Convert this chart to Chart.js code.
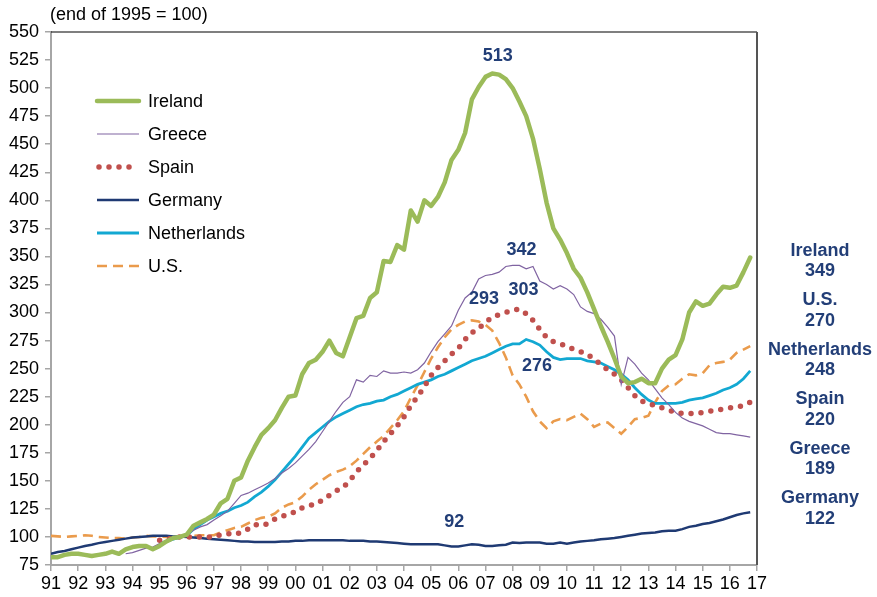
<!DOCTYPE html>
<html>
<head>
<meta charset="utf-8">
<script src="https://cdn.jsdelivr.net/npm/chart.js@4.4.1/dist/chart.umd.min.js"></script>
<style>
  html, body { margin: 0; padding: 0; background: #fff; }
  #chart { display: block; }
</style>
</head>
<body>
<canvas id="chart" width="877" height="597"></canvas>
<script>
// quarterly house price index, end of 1995 = 100
const firstYear = 1991;
const lastYear = 2017;
const tickLabels = ['91', '92', '93', '94', '95', '96', '97', '98', '99', '00', '01', '02', '03',
  '04', '05', '06', '07', '08', '09', '10', '11', '12', '13', '14', '15', '16', '17'];

const irelandStart = 1991;
const irelandValues = [
  82, 82, 84, 85, 85, 84, 83, 84, 85, 87, 85, 89, 91, 92, 92, 89,
  92, 96, 99, 100, 102, 110, 113, 116, 120, 130, 134, 150, 153, 168, 180, 191,
  197, 204, 215, 225, 226, 245, 255, 258, 265, 275, 264, 261, 278, 295, 297, 313,
  318, 346, 345, 360, 356, 391, 381, 400, 395, 403, 416, 436, 445, 460, 490, 501,
  510, 513, 512, 508, 500, 488, 475, 455, 428, 398, 375, 365, 353, 339, 331, 318,
  303, 288, 274, 259, 243, 237, 238, 241, 237, 237, 250, 258, 262, 276, 300, 310,
  306, 308, 316, 323, 322, 324, 336, 349
];

const greeceStart = 1993.75;
const greeceValues = [
  85, 86, 88, 90, 91, 94, 96, 98, 100, 102, 106, 109, 111, 115, 119, 123, 130,
  137, 139, 142, 145, 148, 152, 157, 161, 166, 172, 178, 185, 194, 203, 212, 220,
  225, 240, 238, 244, 243, 248, 246, 246, 247, 246, 249, 255, 265, 274, 281, 288,
  302, 313, 318, 330, 333, 334, 336, 341, 342, 342, 339, 341, 328, 325, 321, 324,
  321, 316, 305, 301, 299, 294, 287, 279, 236, 260, 254, 246, 240, 232, 224, 218,
  211, 206, 203, 201, 199, 196, 193, 192, 192, 191, 190, 189
];

const spainStart = 1995;
const spainValues = [
  97, 98, 99, 100, 100, 100, 100, 100, 100, 102, 103, 102, 104, 107, 111, 110,
  112, 116, 118, 121, 122, 126, 128, 129, 133, 137, 141, 144, 150, 158, 164, 170,
  177, 185, 192, 199, 207, 217, 225, 234, 244, 251, 257, 263, 268, 276, 282, 286,
  291, 296, 298, 300, 302, 303, 299, 293, 285, 278, 274, 272, 270, 267, 265, 263,
  258, 254, 249, 245, 240, 233, 226, 221, 219, 217, 215, 213, 211, 210, 210, 210,
  211, 212, 213, 214, 215, 216, 217, 220
];

const germanyStart = 1991;
const germanyValues = [
  85, 86.5, 87.5, 89, 90.5, 92, 93, 94.5, 95.5, 96.5, 97.5, 98.5, 99.5, 100, 100.5, 101,
  101, 101, 100.5, 100.5, 100, 99.5, 99, 98.5, 98, 97.5, 97, 96.5, 96, 96, 95.5, 95.5,
  95.5, 95.5, 96, 96, 96.5, 96.5, 97, 97, 97, 97, 97, 97, 96.5, 96.5, 96.5, 96,
  96, 95.5, 95, 94.5, 94, 93.5, 93.5, 93.5, 93.5, 93.5, 92.5, 91.5, 91.5, 92.5, 93.5, 93,
  92, 92, 92.5, 93, 95, 94.5, 95, 95, 95, 94, 94, 95, 94, 95, 96, 96.5,
  97, 98, 98.5, 99, 100, 101, 102, 103, 103.5, 104, 105, 105.5, 105.5, 107, 109, 110,
  111.5, 112.5, 114, 115.5, 117.5, 119.5, 121, 122
];

const netherlandsStart = 1995;
const netherlandsValues = [
  94, 96, 98, 99.5, 101, 107, 111, 115, 118, 121, 123, 126, 128, 131, 136, 140,
  145, 151, 158, 165, 172, 180, 188, 193, 198, 203, 207, 210, 213, 216, 218, 219,
  221, 222, 225, 227, 230, 233, 236, 238, 240, 243, 245, 248, 251, 254, 257, 259,
  261, 264, 267, 270, 272, 272, 276, 274, 271, 265, 260, 258, 259, 259, 259, 257,
  256, 255, 252, 249, 245, 240, 233, 227, 222, 219, 219, 219, 219, 220, 222, 223,
  224, 226, 228, 231, 233, 236, 241, 248
];

const usStart = 1991;
const usValues = [
  101, 100.5, 100, 100.5, 101, 101.5, 101, 100, 99.5, 99, 99, 98.5, 99.5, 100, 101, 100.5,
  100.5, 100, 100, 100, 100.5, 101, 101.5, 101.5, 101.5, 104, 106, 108, 109, 112, 115, 117,
  118, 121, 126, 129, 131, 136, 142, 147, 151, 155, 158, 160, 163, 168, 174, 180,
  185, 190, 197, 204, 212, 224, 235, 247, 259, 269, 278, 285, 289, 292, 293, 292,
  289, 284, 273, 260, 244, 236, 225, 212, 203, 197, 203, 205, 204, 207, 210, 205,
  198, 201, 202, 197, 192, 198, 205, 206, 208, 220, 230, 235, 236, 241, 245, 244,
  246, 253, 255, 256, 258, 264, 267, 270
];

// value callouts on the lines
const calloutText = ['513', '342', '303', '293', '276', '92'];
const calloutYear = [2007.45, 2008.33, 2008.4, 2006.95, 2008.9, 2005.85];
const calloutValue = [529, 356, 320, 312, 252, 113];

// end values listed to the right of the plot
const endNames = ['Ireland', 'U.S.', 'Netherlands', 'Spain', 'Greece', 'Germany'];
const endValues = ['349', '270', '248', '220', '189', '122'];

const navy = '#223E77';
const fontFamily = '"Liberation Sans", Arial, Helvetica, sans-serif';

function toPoints(start, values) {
  return values.map((v, i) => ({ x: start + i * 0.25, y: v }));
}

const datasets = [
  { label: 'Ireland', data: toPoints(irelandStart, irelandValues),
    borderColor: '#9BBB59', borderWidth: 4.5, borderJoinStyle: 'round', borderCapStyle: 'round' },
  { label: 'Greece', data: toPoints(greeceStart, greeceValues),
    borderColor: '#8064A2', borderWidth: 1.2 },
  { label: 'Spain', data: toPoints(spainStart, spainValues),
    borderColor: '#C0504D', borderWidth: 5.5, borderDash: [0, 10], borderCapStyle: 'round' },
  { label: 'Germany', data: toPoints(germanyStart, germanyValues),
    borderColor: '#1F3A73', borderWidth: 2.5 },
  { label: 'Netherlands', data: toPoints(netherlandsStart, netherlandsValues),
    borderColor: '#12A8D2', borderWidth: 2.8 },
  { label: 'U.S.', data: toPoints(usStart, usValues),
    borderColor: '#EA9B4C', borderWidth: 2.6, borderDash: [10, 6] }
];

const overlayPlugin = {
  id: 'overlay',
  afterDraw(chart) {
    const { ctx, chartArea, scales } = chart;
    const x = scales.x;
    const y = scales.y;
    ctx.save();

    // frame on top and right
    ctx.strokeStyle = '#000';
    ctx.lineWidth = 1.2;
    ctx.beginPath();
    ctx.moveTo(chartArea.left, chartArea.top);
    ctx.lineTo(chartArea.right, chartArea.top);
    ctx.stroke();
    ctx.strokeStyle = '#555';
    ctx.lineWidth = 2;
    ctx.beginPath();
    ctx.moveTo(chartArea.right, chartArea.top);
    ctx.lineTo(chartArea.right, chartArea.bottom);
    ctx.stroke();

    // unit note
    ctx.fillStyle = '#000';
    ctx.font = '18px ' + fontFamily;
    ctx.textAlign = 'left';
    ctx.textBaseline = 'middle';
    ctx.fillText('(end of 1995 = 100)', chartArea.left - 1, 15);

    // legend inside the plot
    const legX = 97, legLen = 42, legTop = 101, legStep = 33;
    chart.data.datasets.forEach((ds, i) => {
      const ly = legTop + i * legStep;
      ctx.save();
      ctx.strokeStyle = ds.borderColor;
      ctx.lineWidth = ds.borderWidth;
      ctx.lineCap = ds.borderCapStyle || 'butt';
      ctx.setLineDash(ds.borderDash || []);
      ctx.beginPath();
      ctx.moveTo(legX + (ds.label === 'Spain' ? 2 : 0), ly);
      ctx.lineTo(legX + legLen, ly);
      ctx.stroke();
      ctx.restore();
      ctx.fillStyle = '#000';
      ctx.font = '18px ' + fontFamily;
      ctx.textAlign = 'left';
      ctx.fillText(ds.label, legX + legLen + 9, ly + 1);
    });

    // callouts
    ctx.fillStyle = navy;
    ctx.font = 'bold 18px ' + fontFamily;
    ctx.textAlign = 'center';
    calloutText.forEach((t, i) => {
      ctx.fillText(t, x.getPixelForValue(calloutYear[i]), y.getPixelForValue(calloutValue[i]));
    });

    // end values at the right
    const cx = chartArea.right + 63;
    const top = 251, step = 49.5;
    endNames.forEach((n, i) => {
      ctx.fillText(n, cx, top + i * step);
      ctx.fillText(endValues[i], cx, top + i * step + 20.5);
    });

    ctx.restore();
  }
};

new Chart(document.getElementById('chart'), {
  type: 'line',
  data: { datasets },
  plugins: [overlayPlugin],
  options: {
    responsive: false,
    animation: false,
    layout: { padding: { top: 32, right: 120, left: 0, bottom: 0 } },
    elements: { point: { radius: 0 }, line: { tension: 0, fill: false } },
    plugins: { legend: { display: false }, tooltip: { enabled: false } },
    scales: {
      x: {
        type: 'linear',
        min: firstYear,
        max: lastYear,
        afterFit(scale) { scale.height = 32; },
        grid: { drawOnChartArea: false, drawTicks: true, tickLength: 6, color: '#A6A6A6', lineWidth: 1.5 },
        border: { display: true, color: '#A6A6A6', width: 2 },
        ticks: {
          stepSize: 1, autoSkip: false, maxRotation: 0, padding: 2,
          color: '#000', font: { family: fontFamily, size: 18 },
          callback: v => tickLabels[v - firstYear]
        }
      },
      y: {
        min: 75,
        max: 550,
        afterFit(scale) { scale.width = 51; },
        grid: { drawOnChartArea: false, drawTicks: true, tickLength: 6, color: '#A6A6A6', lineWidth: 1.5 },
        border: { display: true, color: '#A6A6A6', width: 2 },
        ticks: {
          stepSize: 25, padding: 6,
          color: '#000', font: { family: fontFamily, size: 18 }
        }
      }
    }
  }
});
</script>
</body>
</html>
